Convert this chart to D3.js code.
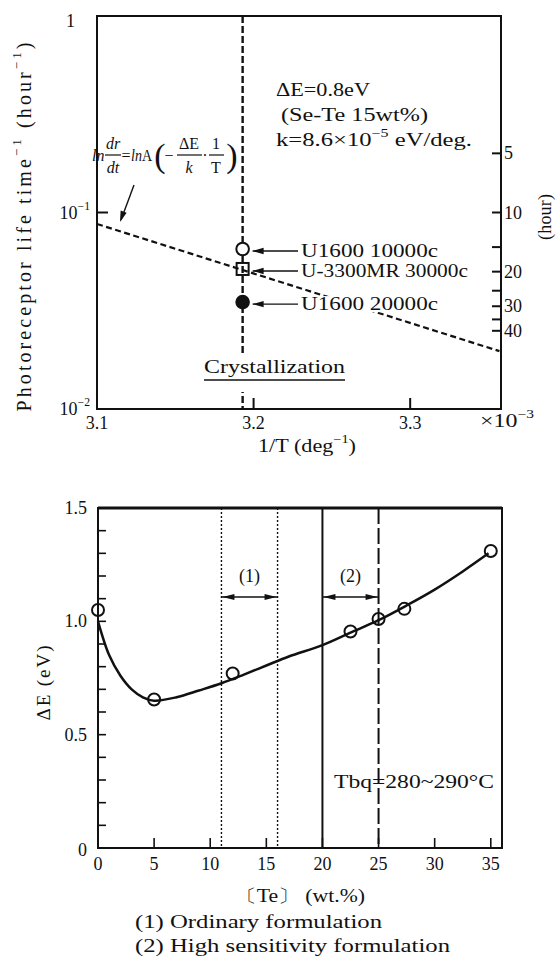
<!DOCTYPE html>
<html><head><meta charset="utf-8">
<script src="https://cdn.jsdelivr.net/npm/d3@7"></script>
<style>
body{margin:0;background:#fff}
svg{display:block}
text{font-family:"Liberation Serif","Times New Roman",serif;fill:#111}
</style></head><body>
<svg id="c" width="556" height="959"></svg>
<script>
// ---------- Top chart data ----------
const topXTicks = [3.2, 3.3];
const topXLabels = ["3.1", "3.2", "3.3"];
const topXLabelVals = [3.1, 3.2, 3.3];
const topYTicks = [0.1];
const topYLabelVals = [1, 0.1, 0.01];
const topYLabelBase = ["1", "10", "10"];
const topYLabelExp = ["", "−1", "−2"];
const hourTicks = [5, 10, 15, 20, 25, 30, 35, 40];
const hourLabels = ["5", "10", "", "20", "", "30", "", "40"];
const crystX = 3.193;
const sampleNames = ["U1600 10000c", "U-3300MR 30000c", "U1600 20000c"];
const sampleX = [3.193, 3.193, 3.193];
const sampleY = [0.0652, 0.0516, 0.0350];
const sampleShape = ["open", "square", "filled"];
const fitLineX = [3.1, 3.357];
const fitLineY = [0.0874, 0.0197];

// ---------- Bottom chart data ----------
const teTicks = [5, 10, 15, 20, 25, 30, 35];
const teLabels = ["0", "5", "10", "15", "20", "25", "30", "35"];
const teLabelVals = [0, 5, 10, 15, 20, 25, 30, 35];
const deLabelVals = [0, 0.5, 1.0, 1.5];
const deLabels = ["0", "0.5", "1.0", "1.5"];
const measTe = [0, 5, 12, 22.5, 25, 27.3, 35];
const measDE = [1.05, 0.655, 0.77, 0.955, 1.01, 1.055, 1.31];
const fitTe = [0, 1, 2, 3, 4, 5, 7, 9, 11, 13, 15, 17, 20, 22.5, 25, 27.5, 30, 32.5, 34.8];
const fitDE = [1.0, 0.85, 0.76, 0.70, 0.665, 0.65, 0.665, 0.695, 0.727, 0.765, 0.805, 0.845, 0.895, 0.95, 1.005, 1.07, 1.14, 1.22, 1.30];
const rangeNames = ["(1)", "(2)"];
const rangeFrom = [11, 20];
const rangeTo = [16, 25];
const legendLines = ["(1)  Ordinary formulation", "(2)  High sensitivity formulation"];

const svg = d3.select("#c");
const FS = 18;

function rich(g, x, y, parts, o = {}) {
  const size = o.size || FS;
  const t = g.append("text").attr("x", x).attr("y", y).attr("font-size", size)
    .attr("text-anchor", o.anchor || "start").attr("dominant-baseline", "central");
  let shift = 0;
  parts.forEach(p => {
    const [s, k] = Array.isArray(p) ? p : [p, null];
    const ts = t.append("tspan").text(s);
    const target = k === "sup" ? -size * 0.38 : 0;
    if (target !== shift) { ts.attr("dy", target - shift); shift = target; }
    if (k === "sup") ts.attr("font-size", size * 0.65);
    if (k === "it") ts.attr("font-style", "italic");
  });
  if (o.len) t.attr("textLength", o.len).attr("lengthAdjust", o.adjust || "spacingAndGlyphs");
  if (o.rotate) t.attr("transform", `rotate(-90 ${x} ${y})`);
  return t;
}
function arrowHead(g, tx, ty, dx, dy, L = 11, W = 3.2) {
  const n = Math.hypot(dx, dy), ux = dx / n, uy = dy / n;
  const bx = tx - ux * L, by = ty - uy * L;
  g.append("path").attr("d",
    `M${tx},${ty}L${bx - uy * W},${by + ux * W}L${bx + uy * W},${by - ux * W}Z`).attr("fill", "#111");
}

// ================= TOP CHART =================
const gt = svg.append("g");
const x = d3.scaleLinear([3.1, 3.358], [97, 501]);
const y = d3.scaleLog([0.01, 1], [409, 16]);

gt.append("line").attr("x1", x(crystX)).attr("x2", x(crystX)).attr("y1", y(1)).attr("y2", y(0.01))
  .attr("stroke", "#111").attr("stroke-width", 2.4).attr("stroke-dasharray", "7,3");

gt.append("path").attr("d", d3.line().x((d, i) => x(fitLineX[i])).y(d => y(d))(fitLineY))
  .attr("fill", "none").attr("stroke", "#111").attr("stroke-width", 2.2).attr("stroke-dasharray", "6,3.5");

gt.append("rect").attr("x", 97).attr("y", 16).attr("width", 404).attr("height", 393)
  .attr("fill", "none").attr("stroke", "#111").attr("stroke-width", 2);

topYTicks.forEach(v => gt.append("line").attr("x1", 97).attr("x2", 108).attr("y1", y(v)).attr("y2", y(v))
  .attr("stroke", "#111").attr("stroke-width", 2));
topYLabelVals.forEach((v, i) => {
  const parts = topYLabelExp[i] ? [topYLabelBase[i], [topYLabelExp[i], "sup"]] : [topYLabelBase[i]];
  rich(gt, i === 0 ? 75 : 90, y(v) + (i === 0 ? 5 : 0), parts, { anchor: "end" });
});
topXTicks.forEach(v => gt.append("line").attr("x1", x(v)).attr("x2", x(v)).attr("y1", 409).attr("y2", 398)
  .attr("stroke", "#111").attr("stroke-width", 2));
topXLabelVals.forEach((v, i) => rich(gt, x(v), 423, [topXLabels[i]], { anchor: "middle" }));
rich(gt, 480, 421, ["×10", ["−3", "sup"]], { len: 54 });
hourTicks.forEach((h, i) => {
  gt.append("line").attr("x1", 492).attr("x2", 501).attr("y1", y(1 / h)).attr("y2", y(1 / h))
    .attr("stroke", "#111").attr("stroke-width", 2);
  if (hourLabels[i]) rich(gt, 504, y(1 / h), [hourLabels[i]]);
});
rich(gt, 545, 217, ["(hour)"], { rotate: true, anchor: "middle", len: 46, adjust: "spacing" });

rich(gt, 24, 227, ["Photoreceptor life time", ["−1", "sup"], "  (hour", ["−1", "sup"], ")"],
  { rotate: true, anchor: "middle", len: 369, size: 20, adjust: "spacing" });
rich(gt, 258, 446, ["1/T  (deg", ["−1", "sup"], ")"], { len: 98 });

sampleY.forEach((v, i) => {
  const cx = x(sampleX[i]), cy = y(v);
  if (sampleShape[i] === "square") {
    gt.append("rect").attr("x", cx - 6).attr("y", cy - 6).attr("width", 12).attr("height", 12)
      .attr("fill", "none").attr("stroke", "#111").attr("stroke-width", 2);
  } else {
    gt.append("circle").attr("cx", cx).attr("cy", cy).attr("r", 6.3)
      .attr("fill", sampleShape[i] === "filled" ? "#111" : "#fff").attr("stroke", "#111").attr("stroke-width", 2);
  }
  const ay = cy + 2;
  gt.append("line").attr("x1", cx + 10).attr("x2", 298).attr("y1", ay).attr("y2", ay)
    .attr("stroke", "#111").attr("stroke-width", 1.4);
  arrowHead(gt, cx + 10, ay, -1, 0);
  const lab = rich(gt, 301, ay, [sampleNames[i]], { len: i === 1 ? 167 : 137 });
  const bb = lab.node().getBBox();
  gt.insert("rect", "text").attr("x", bb.x - 2).attr("y", bb.y + 2).attr("width", bb.width + 4).attr("height", bb.height - 4)
    .attr("fill", "#fff");
});

gt.append("rect").attr("x", 200).attr("y", 354).attr("width", 150).attr("height", 38).attr("fill", "#fff");
rich(gt, 204, 367, ["Crystallization"], { len: 141 });
gt.append("line").attr("x1", 204).attr("x2", 345).attr("y1", 380).attr("y2", 380).attr("stroke", "#111").attr("stroke-width", 1.5);

rich(gt, 276, 90, ["ΔE=0.8eV"], { len: 94 });
rich(gt, 281, 115, ["(Se-Te  15wt%)"], { len: 147 });
rich(gt, 276, 140, ["k=8.6×10", ["−5", "sup"], "  eV/deg."], { len: 196 });

// formula
const fy = 155, fsz = 16;
rich(gt, 92, fy, [["ln", "it"]], { size: fsz });
rich(gt, 113, fy - 12, [["dr", "it"]], { size: fsz, anchor: "middle" });
rich(gt, 113, fy + 12, [["dt", "it"]], { size: fsz, anchor: "middle" });
gt.append("line").attr("x1", 105).attr("x2", 121).attr("y1", fy).attr("y2", fy).attr("stroke", "#111").attr("stroke-width", 1.2);
rich(gt, 126, fy, ["="], { size: fsz, anchor: "middle" });
rich(gt, 131, fy, [["ln", "it"], "A"], { size: fsz, len: 21 });
rich(gt, 160, fy, ["("], { size: 34, anchor: "middle" });
rich(gt, 169, fy, ["−"], { size: fsz, anchor: "middle" });
rich(gt, 189, fy - 12, ["ΔE"], { size: fsz, anchor: "middle" });
rich(gt, 189, fy + 12, [["k", "it"]], { size: fsz, anchor: "middle" });
gt.append("line").attr("x1", 177).attr("x2", 202).attr("y1", fy).attr("y2", fy).attr("stroke", "#111").attr("stroke-width", 1.2);
rich(gt, 205, fy, ["·"], { size: fsz, anchor: "middle" });
rich(gt, 216, fy - 12, ["1"], { size: fsz, anchor: "middle" });
rich(gt, 216, fy + 12, ["T"], { size: fsz, anchor: "middle" });
gt.append("line").attr("x1", 209).attr("x2", 224).attr("y1", fy).attr("y2", fy).attr("stroke", "#111").attr("stroke-width", 1.2);
rich(gt, 232, fy, [")"], { size: 34, anchor: "middle" });
gt.append("line").attr("x1", 134).attr("y1", 185).attr("x2", 121).attr("y2", 220).attr("stroke", "#111").attr("stroke-width", 1.4);
arrowHead(gt, 120, 222, -13, 37);

// ================= BOTTOM CHART =================
const gb = svg.append("g");
const xb = d3.scaleLinear([0, 36], [98, 502]);
const yb = d3.scaleLinear([0, 1.5], [848, 508]);

[[11, "2,2", 1.4], [16, "2,2", 1.4], [20, null, 2], [25, "16,4", 2]].forEach(([v, da, w]) => {
  const l = gb.append("line").attr("x1", xb(v)).attr("x2", xb(v)).attr("y1", yb(1.5)).attr("y2", yb(0))
    .attr("stroke", "#111").attr("stroke-width", w);
  if (da) l.attr("stroke-dasharray", da);
});
rangeNames.forEach((n, i) => {
  const a = xb(rangeFrom[i]), b = xb(rangeTo[i]), ay = 597;
  gb.append("line").attr("x1", a).attr("x2", b).attr("y1", ay).attr("y2", ay).attr("stroke", "#111").attr("stroke-width", 1.4);
  arrowHead(gb, a + 1, ay, -1, 0, 12, 3);
  arrowHead(gb, b - 1, ay, 1, 0, 12, 3);
  rich(gb, (a + b) / 2, 576, [n], { anchor: "middle" });
});

gb.append("rect").attr("x", 98).attr("y", 508).attr("width", 404).attr("height", 340)
  .attr("fill", "none").attr("stroke", "#111").attr("stroke-width", 2);
gb.append("line").attr("x1", 98).attr("x2", 502).attr("y1", 508).attr("y2", 508).attr("stroke", "#111").attr("stroke-width", 3);

yb.ticks(15).forEach(v => gb.append("line").attr("x1", 98).attr("x2", 106).attr("y1", yb(v)).attr("y2", yb(v))
  .attr("stroke", "#111").attr("stroke-width", 1.6));
teTicks.forEach(v => gb.append("line").attr("x1", xb(v)).attr("x2", xb(v)).attr("y1", 848).attr("y2", 838)
  .attr("stroke", "#111").attr("stroke-width", 1.6));
deLabelVals.forEach((v, i) => rich(gb, 87, yb(v) + (v === 0 ? 2 : 0), [deLabels[i]], { anchor: "end" }));
teLabelVals.forEach((v, i) => rich(gb, xb(v), 864, [teLabels[i]], { anchor: "middle" }));

gb.append("path").attr("d", d3.line().x((d, i) => xb(fitTe[i])).y(d => yb(d)).curve(d3.curveCatmullRom)(fitDE))
  .attr("fill", "none").attr("stroke", "#111").attr("stroke-width", 2.5);
measDE.forEach((v, i) => gb.append("circle").attr("cx", xb(measTe[i])).attr("cy", yb(v)).attr("r", 6)
  .attr("fill", "none").attr("stroke", "#111").attr("stroke-width", 2));

rich(gb, 334, 782, ["Tbq=280~290°C"], { len: 160 });
rich(gb, 43, 683, ["ΔE  (eV)"], { rotate: true, anchor: "middle", len: 75, size: 19, adjust: "spacing" });
rich(gb, 300, 896, ["〔Te〕 (wt.%)"], { anchor: "middle", len: 130 });
legendLines.forEach((s, i) => rich(gb, 135, 922 + i * 24, [s], { len: i === 0 ? 247 : 315 }));
</script>
</body></html>
